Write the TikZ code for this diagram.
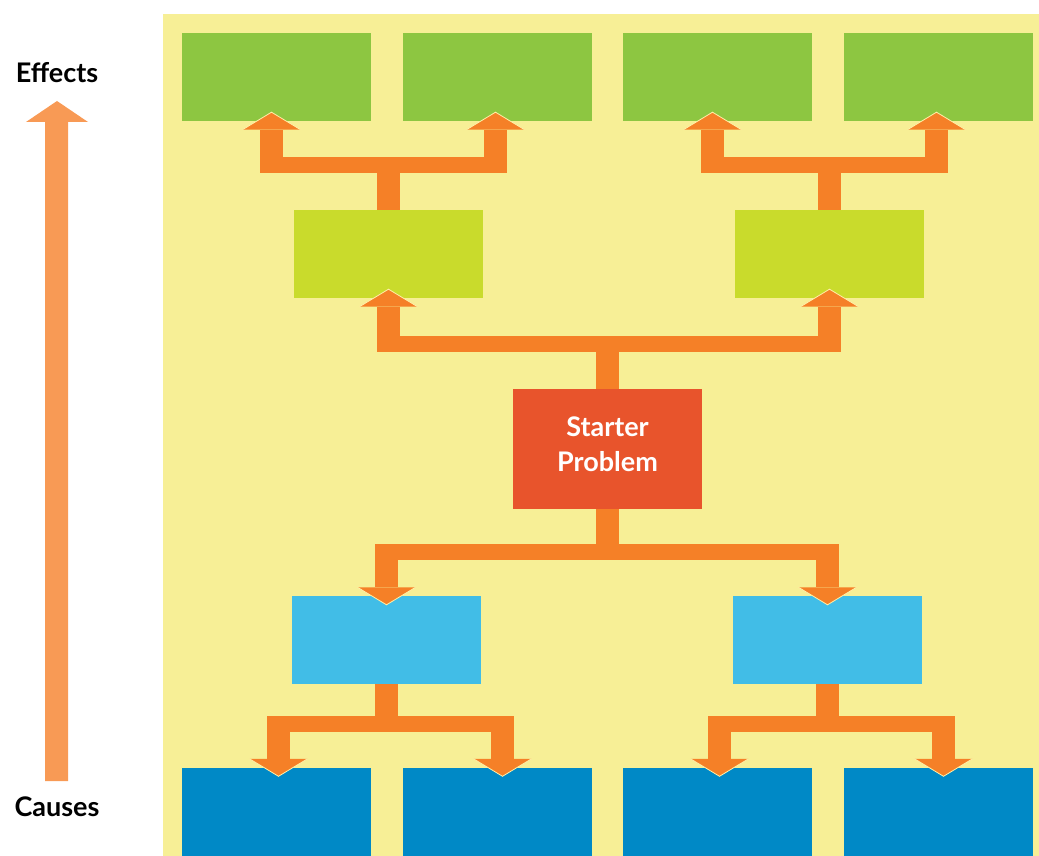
\documentclass[tikz,border=0pt]{standalone}
\usepackage{fontspec}
\setmainfont{Lato}

\definecolor{pad}{HTML}{F7EF96}
\definecolor{leaf}{HTML}{8DC641}
\definecolor{lime}{HTML}{C9DB2C}
\definecolor{brick}{HTML}{E8542C}
\definecolor{sky}{HTML}{41BDE7}
\definecolor{sea}{HTML}{0089C6}
\definecolor{flow}{HTML}{F58027}
\definecolor{soft}{HTML}{F89A55}
\definecolor{rimcol}{HTML}{FFF0A8}

% fork: #1 from, #2/#3 targets, #4 bar y, #5/#6 arm shifts, #7 1 up / -1 down
\newcommand{\fork}[7]{%
  \draw[stem] (#1) -- (#1 |- 0,#4);
  \draw[bar] ([xshift=#5pt-11.5pt]#2 |- 0,#4) -- ([xshift=#6pt+11.5pt]#3 |- 0,#4);
  \foreach \t/\s in {#2/#5,#3/#6}{
    \draw[stem] ([xshift=\s pt]\t |- 0,#4) -- ([xshift=\s pt,yshift={-8.5pt*(#7)}]\t);
    \fill[flow] ([xshift=\s pt-29pt,yshift={-8.5pt*(#7)}]\t) -- ([xshift=\s pt,yshift={9pt*(#7)}]\t)
      -- ([xshift=\s pt+29pt,yshift={-8.5pt*(#7)}]\t) -- cycle;
    \draw[rim] ([xshift=\s pt-29pt,yshift={-8.5pt*(#7)}]\t) -- ([xshift=\s pt,yshift={9pt*(#7)}]\t)
      -- ([xshift=\s pt+29pt,yshift={-8.5pt*(#7)}]\t);
  }
}

\begin{document}
\begin{tikzpicture}
	[x=1pt, y=-1pt, font=\bfseries\fontsize{27}{35}\selectfont,
	 box/.style={minimum width=189pt, minimum height=88pt, inner sep=0pt},
	 effect/.style={box, fill=leaf},
	 middle/.style={box, fill=lime},
	 cause/.style={box, fill=sky},
	 root/.style={box, fill=sea},
	 stem/.style={draw=flow, line width=23pt},
	 bar/.style={draw=flow, line width=16pt},
	 rim/.style={draw=rimcol, line width=0.8pt}]
	\useasboundingbox (0,0) rectangle (1039,856);
	\fill[pad] (163,14) rectangle (1039,856);

	% boxes
	\node[effect] (eff1) at (276.5,77) {};
	\node[effect] (eff2) at (497.5,77) {};
	\node[effect] (eff3) at (717.5,77) {};
	\node[effect] (eff4) at (938.5,77) {};
	\node[middle] (mid1) at (388.5,254) {};
	\node[middle] (mid2) at (829.5,254) {};
	\node[box, fill=brick, minimum height=120pt] (start) at (607.5,449) {};
	\node[text=white, align=center] (startlbl) at ([yshift=4.5pt]start) {Starter\\Problem};
	\node[cause] (cause1) at (386.5,640) {};
	\node[cause] (cause2) at (827.5,640) {};
	\node[root] (root1) at (276.5,811.5) {};
	\node[root] (root2) at (497.5,811.5) {};
	\node[root] (root3) at (717.5,811.5) {};
	\node[root] (root4) at (938.5,811.5) {};

	% arrows
	\fork{mid1.north}{eff1.south}{eff2.south}{165}{-5}{-2}{1}
	\fork{mid2.north}{eff3.south}{eff4.south}{165}{-5}{-2}{1}
	\fork{start.north}{mid1.south}{mid2.south}{344}{0}{0}{1}
	\fork{start.south}{cause1.north}{cause2.north}{552}{0}{0}{-1}
	\fork{cause1.south}{root1.north}{root2.north}{724}{2}{5}{-1}
	\fork{cause2.south}{root3.north}{root4.north}{724}{2}{5}{-1}

	% side scale
	\node[anchor=base] (effects) at (57,83) {Effects};
	\node[anchor=base] (causes) at (57,816) {Causes};
	\fill[soft] (45,781) -- (45,122) -- (26,122) -- (57,101) -- (88,122) -- (68,122) -- (68,781) -- cycle;
\end{tikzpicture}
\end{document}
